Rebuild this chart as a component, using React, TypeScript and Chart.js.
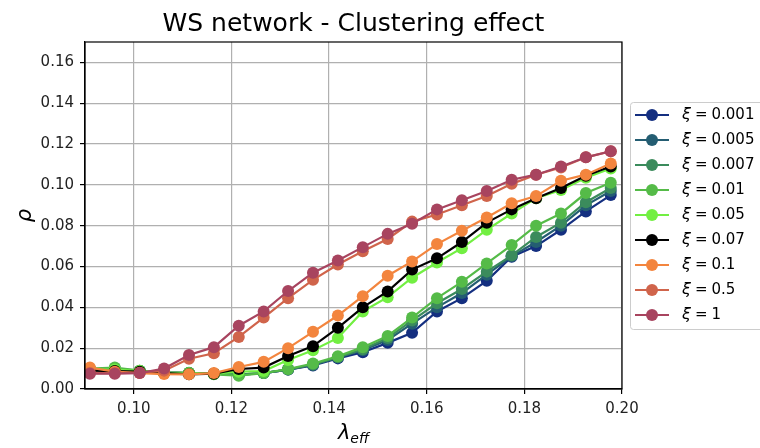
import { useEffect, useRef } from "react";
import { Chart, registerables } from "chart.js";

Chart.register(...registerables);

// λ_eff values (x)
const lambdaEff = [
  0.091, 0.0961, 0.1012, 0.1062, 0.1113, 0.1164, 0.1215, 0.1266, 0.1316, 0.1367, 0.1418,
  0.1469, 0.152, 0.157, 0.1621, 0.1672, 0.1723, 0.1774, 0.1824, 0.1875, 0.1926, 0.1977,
];

const xiLabels = ["0.001", "0.005", "0.007", "0.01", "0.05", "0.07", "0.1", "0.5", "1"];

const rhoXi0001 = [
  0.0095, 0.0098, 0.0088, 0.008, 0.0078, 0.0075, 0.007, 0.0078, 0.0095, 0.0115, 0.015,
  0.018, 0.0226, 0.0275, 0.038, 0.0445, 0.053, 0.0648, 0.07, 0.078, 0.087, 0.095,
];
const rhoXi0005 = [
  0.0097, 0.0098, 0.0088, 0.008, 0.0078, 0.0075, 0.007, 0.0078, 0.0095, 0.0118, 0.0155,
  0.019, 0.024, 0.032, 0.04, 0.047, 0.056, 0.065, 0.072, 0.08, 0.09, 0.097,
];
const rhoXi0007 = [
  0.0098, 0.01, 0.009, 0.008, 0.0078, 0.0075, 0.007, 0.0078, 0.0095, 0.012, 0.0155,
  0.0195, 0.025, 0.0335, 0.042, 0.049, 0.0575, 0.0655, 0.0745, 0.0815, 0.0915, 0.0985,
];
const rhoXi001 = [
  0.01, 0.0105, 0.009, 0.008, 0.008, 0.0072, 0.0065, 0.0078, 0.0098, 0.0125, 0.016,
  0.0205, 0.026, 0.035, 0.0445, 0.0525, 0.0615, 0.0705, 0.08, 0.086, 0.096, 0.101,
];
const rhoXi005 = [
  0.0095, 0.0095, 0.0088, 0.0078, 0.0075, 0.0075, 0.0085, 0.0088, 0.0142, 0.019, 0.025,
  0.038, 0.045, 0.0545, 0.062, 0.069, 0.078, 0.086, 0.0935, 0.0975, 0.1035, 0.108,
];
const rhoXi007 = [
  0.009, 0.0088, 0.0085, 0.0078, 0.0072, 0.0075, 0.0098, 0.0105, 0.0162, 0.021, 0.03,
  0.04, 0.0478, 0.0585, 0.064, 0.072, 0.0815, 0.088, 0.0935, 0.0985, 0.1045, 0.109,
];
const rhoXi01 = [
  0.0105, 0.0085, 0.0078, 0.0073, 0.0072, 0.0078, 0.0108, 0.0133, 0.02, 0.028, 0.036,
  0.0455, 0.0555, 0.0625, 0.071, 0.0775, 0.084, 0.091, 0.0945, 0.102, 0.105, 0.1105,
];
const rhoXi05 = [
  0.0078, 0.0078, 0.008, 0.009, 0.0148, 0.0175, 0.0255, 0.035, 0.0445, 0.0535, 0.061,
  0.0675, 0.0735, 0.082, 0.0855, 0.09, 0.0945, 0.1005, 0.105, 0.1085, 0.1135, 0.1165,
];
const rhoXi1 = [
  0.0075, 0.0075, 0.0078, 0.01, 0.0167, 0.0205, 0.031, 0.038, 0.048, 0.057, 0.063,
  0.0695, 0.076, 0.081, 0.088, 0.0925, 0.097, 0.1025, 0.105, 0.109, 0.1135, 0.1165,
];

const seriesColors = [
  "#142f80", "#245d72", "#3b8b5c", "#55bb48", "#72ef42", "#000000", "#f3853e", "#d0644b", "#a8445f",
];

const xTicks = [0.1, 0.12, 0.14, 0.16, 0.18, 0.2];
const yTicks = [0, 0.02, 0.04, 0.06, 0.08, 0.1, 0.12, 0.14, 0.16];

const FONT = "'DejaVu Sans', sans-serif";

export default function App() {
  const ref = useRef<HTMLCanvasElement>(null);

  useEffect(() => {
    const canvas = ref.current;
    if (!canvas) return;
    const series = [
      rhoXi0001, rhoXi0005, rhoXi0007, rhoXi001, rhoXi005, rhoXi007, rhoXi01, rhoXi05, rhoXi1,
    ];
    const datasets = series.map((ys, i) => ({
      label: "ξ = " + xiLabels[i],
      data: lambdaEff.map((x, j) => ({ x, y: ys[j] })),
      borderColor: seriesColors[i],
      backgroundColor: seriesColors[i],
      pointBackgroundColor: seriesColors[i],
      pointBorderColor: seriesColors[i],
      pointBorderWidth: 0,
      pointRadius: 6,
      borderWidth: 2.2,
      tension: 0,
      order: series.length - 1 - i,
    }));

    const decor = {
      id: "decor",
      afterDraw(chart: any) {
        const ctx = chart.ctx as CanvasRenderingContext2D;
        const a = chart.chartArea;
        ctx.save();
        // spines
        ctx.strokeStyle = "#000";
        ctx.lineWidth = 1.2;
        ctx.strokeRect(a.left, a.top, a.right - a.left, a.bottom - a.top);
        // title
        ctx.fillStyle = "#000";
        ctx.font = `25px ${FONT}`;
        ctx.textAlign = "center";
        ctx.textBaseline = "alphabetic";
        ctx.fillText("WS network - Clustering effect", (a.left + a.right) / 2, 31);
        // x label
        ctx.font = `italic 21px ${FONT}`;
        ctx.textAlign = "left";
        const lw = ctx.measureText("λ").width;
        ctx.font = `italic 14px ${FONT}`;
        const sw = ctx.measureText("eff").width;
        const xStart = (a.left + a.right) / 2 - (lw + sw) / 2;
        ctx.font = `italic 21px ${FONT}`;
        ctx.fillText("λ", xStart, 439);
        ctx.font = `italic 14px ${FONT}`;
        ctx.fillText("eff", xStart + lw, 443);
        // y label
        ctx.save();
        ctx.translate(31, (a.top + a.bottom) / 2);
        ctx.rotate(-Math.PI / 2);
        ctx.font = `italic 21px ${FONT}`;
        ctx.textAlign = "center";
        ctx.fillText("ρ", 0, 0);
        ctx.restore();
        // legend
        const lx = 630, ly = 102, lwBox = 140, lh = 227;
        ctx.fillStyle = "rgba(255,255,255,0.85)";
        ctx.strokeStyle = "#cccccc";
        ctx.lineWidth = 1;
        ctx.beginPath();
        ctx.roundRect(lx + 0.5, ly + 0.5, lwBox, lh, 3);
        ctx.fill();
        ctx.stroke();
        ctx.textBaseline = "middle";
        xiLabels.forEach((lab, i) => {
          const y = 115 + i * 25;
          const c = seriesColors[i];
          ctx.strokeStyle = c;
          ctx.lineWidth = 2.2;
          ctx.beginPath();
          ctx.moveTo(635, y);
          ctx.lineTo(669, y);
          ctx.stroke();
          ctx.fillStyle = c;
          ctx.beginPath();
          ctx.arc(652, y, 6, 0, Math.PI * 2);
          ctx.fill();
          ctx.fillStyle = "#000";
          ctx.textAlign = "left";
          ctx.font = `italic 16px ${FONT}`;
          ctx.fillText("ξ", 682, y);
          const xw = ctx.measureText("ξ").width;
          ctx.font = `15px ${FONT}`;
          ctx.fillText("=", 682 + xw + 4, y);
          const ew = ctx.measureText("=").width;
          ctx.fillText(lab, 682 + xw + 4 + ew + 4, y);
        });
        ctx.restore();
      },
    };

    const chart = new Chart(canvas, {
      type: "line",
      data: { datasets },
      options: {
        animation: false,
        responsive: false,
        devicePixelRatio: 1,
        layout: { padding: { left: 0, right: 138, top: 42, bottom: 0 } },
        plugins: { legend: { display: false }, title: { display: false }, tooltip: { enabled: false } },
        scales: {
          x: {
            type: "linear",
            min: 0.09,
            max: 0.2,
            afterFit: (s: any) => { s.height = 59; },
            afterBuildTicks: (s: any) => { s.ticks = xTicks.map((v) => ({ value: v })); },
            ticks: {
              color: "#222",
              font: { family: FONT, size: 15 },
              padding: 6,
              maxRotation: 0,
              callback: (v: any) => Number(v).toFixed(2),
            },
            grid: { color: "#b0b0b0", lineWidth: 1.2, tickColor: "#000", tickLength: 5 },
            border: { color: "#000", width: 1.2 },
          },
          y: {
            type: "linear",
            min: 0,
            max: 0.17,
            afterFit: (s: any) => { s.width = 85; },
            afterBuildTicks: (s: any) => { s.ticks = yTicks.map((v) => ({ value: v })); },
            ticks: {
              color: "#222",
              font: { family: FONT, size: 15 },
              padding: 6,
              callback: (v: any) => Number(v).toFixed(2),
            },
            grid: { color: "#b0b0b0", lineWidth: 1.2, tickColor: "#000", tickLength: 5 },
            border: { color: "#000", width: 1.2 },
          },
        },
      },
      plugins: [decor],
    } as any);

    return () => chart.destroy();
  }, []);

  return (
    <div style={{ position: "absolute", left: 0, top: 0, width: 760, height: 448, background: "#fff" }}>
      <canvas ref={ref} width={760} height={448} style={{ width: 760, height: 448 }} />
    </div>
  );
}
